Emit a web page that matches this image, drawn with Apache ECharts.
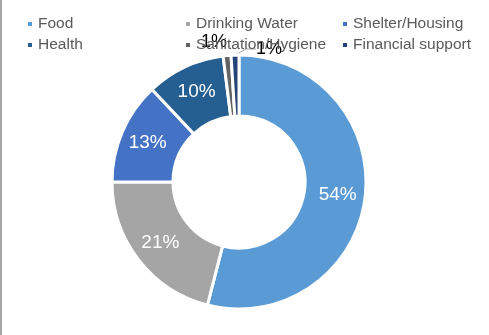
<!DOCTYPE html>
<html>
<head>
<meta charset="utf-8">
<script src="https://cdn.jsdelivr.net/npm/echarts@6/dist/echarts.min.js"></script>
<style>html,body{margin:0;padding:0;background:#fff;}#c{width:489px;height:335px;}</style>
</head>
<body>
<div id="c"></div>
<script>
const categories = ['Food', 'Drinking Water', 'Shelter/Housing', 'Health', 'Sanitation/Hygiene', 'Financial support'];
const values = [54, 21, 13, 10, 1, 1];
const colors = ['#5B9BD5', '#A5A5A5', '#4472C4', '#255E91', '#636363', '#264478'];
const legendCols = [['Food', 'Health'], ['Drinking Water', 'Sanitation/Hygiene'], ['Shelter/Housing', 'Financial support']];
const legendLeft = [21, 179, 336];
const outsideLabelPos = { 'Sanitation/Hygiene': [214, 42], 'Financial support': [269, 49] };

const font = 'Liberation Sans, Arial, sans-serif';
const chart = echarts.init(document.getElementById('c'));

const data = categories.map((name, i) => {
  const d = { name: name, value: values[i], itemStyle: { color: colors[i] } };
  if (outsideLabelPos[name]) {
    d.label = { position: 'outside', color: '#000', fontSize: 18 };
    d.labelLine = { show: name === 'Financial support', lineStyle: { color: '#A6A6A6', width: 1 }, length: 6, length2: 10 };
  }
  return d;
});

const legends = legendCols.map((col, i) => ({
  data: col,
  orient: 'vertical',
  left: legendLeft[i],
  top: 11,
  itemWidth: 6,
  itemHeight: 6,
  itemGap: 5,
  icon: 'rect',
  selectedMode: false,
  textStyle: { fontFamily: font, fontSize: 15.5, color: '#595959' }
}));

chart.setOption({
  animation: false,
  backgroundColor: '#fff',
  graphic: [{ type: 'rect', shape: { x: 0, y: 0, width: 2, height: 335 }, style: { fill: '#A6A6A6' } }],
  legend: legends,
  series: [{
    type: 'pie',
    center: [239, 182],
    radius: [66, 127],
    startAngle: 90,
    clockwise: true,
    avoidLabelOverlap: false,
    itemStyle: { borderColor: '#fff', borderWidth: 3 },
    label: {
      show: true,
      position: 'inside',
      fontFamily: font,
      fontSize: 19,
      color: '#fff',
      formatter: p => p.value + '%'
    },
    labelLayout: function (params) {
      const n = categories[params.dataIndex];
      if (outsideLabelPos[n]) {
        return { x: outsideLabelPos[n][0], y: outsideLabelPos[n][1], align: 'center', verticalAlign: 'middle' };
      }
      return {};
    },
    data: data
  }]
});
</script>
</body>
</html>
